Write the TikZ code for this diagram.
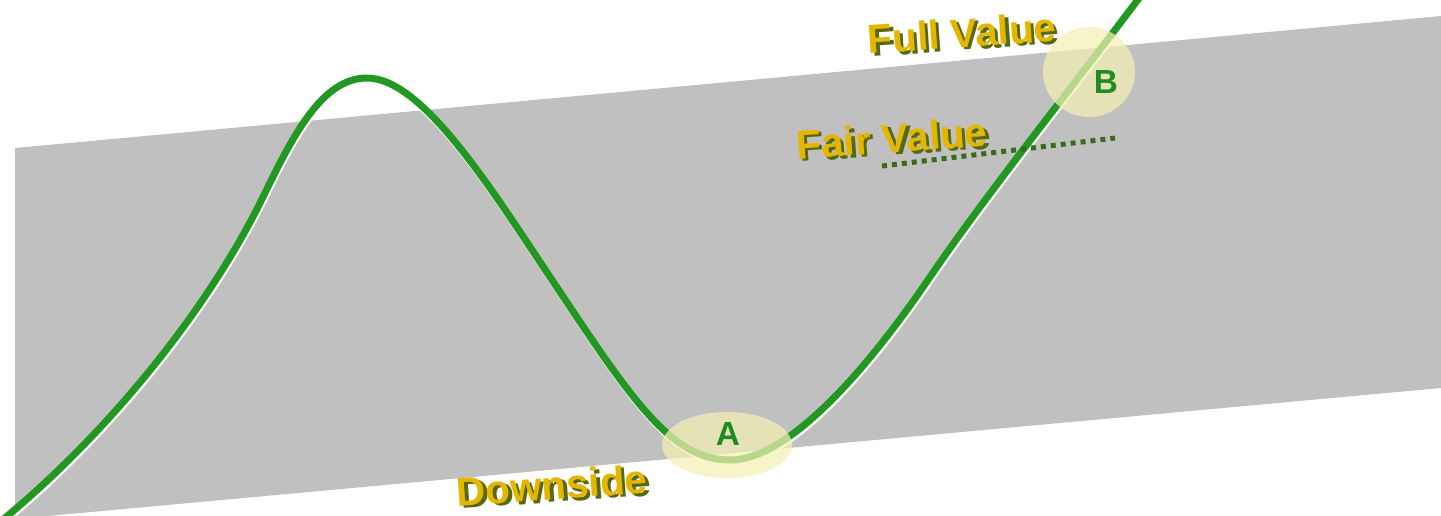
\documentclass[tikz,border=0pt]{standalone}
\usepackage{fontspec}
\setmainfont{Liberation Sans}
\usetikzlibrary{shapes.geometric}
\definecolor{bandgray}{RGB}{192,192,192}
\definecolor{lineg}{RGB}{34,152,34}
\definecolor{goldtxt}{RGB}{228,182,0}
\definecolor{shadowol}{RGB}{86,104,16}
\definecolor{dotg}{RGB}{58,108,24}
\definecolor{paleyel}{RGB}{244,240,180}
\definecolor{letterg}{RGB}{30,140,30}
\tikzset{
  bigtxt/.style={font=\bfseries\fontsize{23}{24}\selectfont, inner sep=0pt, rotate=4},
  shadowtxt/.style={bigtxt, text=shadowol, xshift=0.06cm, yshift=-0.06cm},
  goldlabel/.style={bigtxt, text=goldtxt},
  highlight/.style={ellipse, fill=paleyel, fill opacity=0.72, inner sep=0pt},
  pointlabel/.style={font=\bfseries\fontsize{19}{20}\selectfont, text=letterg, inner sep=0pt},
  curveline/.style={lineg, line width=0.14cm, line cap=round},
  curveshadow/.style={white, line width=0.13cm, line cap=round},
  dottedline/.style={dotg, line width=0.1cm, dash pattern=on 0.1cm off 0.1cm}
}
\begin{document}
\begin{tikzpicture}[x=0.02cm,y=-0.02cm]
\useasboundingbox (0,0) rectangle (1441,515);
\clip (0,0) rectangle (1441,515);
% band
\fill[bandgray] (15,148) -- (1441,16) -- (1441,388) -- (15,519) -- cycle;
% curve
\def\curvepath{(-5,526) .. controls (95,446) and (203,320) .. (263,197)
  .. controls (293,135.5) and (322,78) .. (367,78)
  .. controls (422,78) and (490,187) .. (550,277)
  .. controls (630,397) and (670,460) .. (730,460)
  .. controls (785,460) and (860,380) .. (930,277)
  .. controls (990,189) and (1085,71) .. (1145,-10)}
\draw[curveshadow, yshift=-0.055cm, xshift=0.02cm] \curvepath;
\draw[curveline] \curvepath;
% dotted fair value line
\coordinate (dotS) at (882,166);
\coordinate (dotE) at (1115,138);
\draw[dottedline] (dotS) -- (dotE);
% highlights
\node[highlight, minimum width=2.6cm, minimum height=1.32cm] (ellA) at (727,445) {};
\node[highlight, minimum width=1.84cm, minimum height=1.8cm] (ellB) at (1089,72) {};
\node[pointlabel] (labA) at (728,434) {A};
\node[pointlabel] (labB) at (1106,82) {B};
% labels
\node[shadowtxt] (fullS) at (962,33) {Full Value};
\node[goldlabel] (full) at (962,33) {Full Value};
\node[shadowtxt] (fairS) at (892,138) {Fair Value};
\node[goldlabel] (fair) at (892,138) {Fair Value};
\node[shadowtxt] (downS) at (552,485) {Downside};
\node[goldlabel] (down) at (552,485) {Downside};
\end{tikzpicture}
\end{document}
